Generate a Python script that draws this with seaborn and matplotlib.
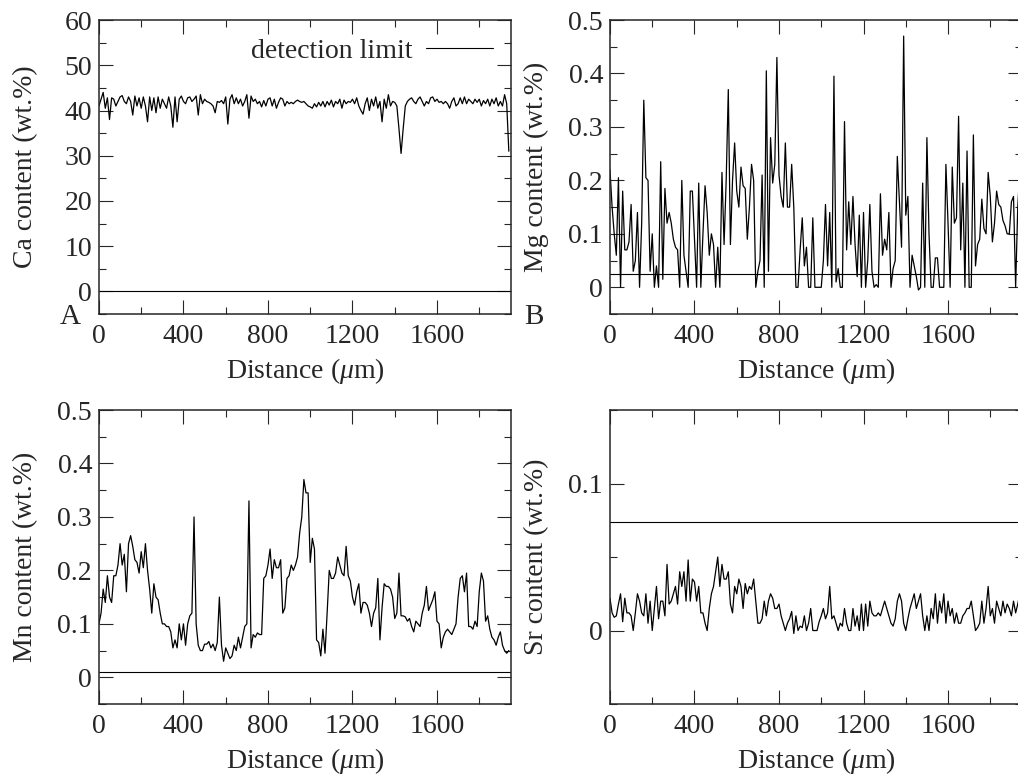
import numpy as np
import pandas as pd
import matplotlib
matplotlib.use("Agg")
import matplotlib.pyplot as plt
import seaborn as sns
from matplotlib.ticker import MultipleLocator, FuncFormatter

# Perfis de composição ao longo da distância (passo de 10 um)
distance_um = list(range(0, 1950, 10))

ca_wt = [
    41.0, 42.5, 44.0, 40.5, 42.8, 38.0, 42.8, 42.5, 41.0, 42.0,
    43.0, 43.3, 42.0, 41.5, 43.0, 42.0, 39.0, 43.2, 41.0, 42.8,
    40.5, 43.0, 41.0, 37.5, 43.0, 40.0, 42.8, 39.5, 43.0, 40.5,
    42.5, 41.5, 40.5, 43.0, 41.0, 36.3, 43.0, 37.5, 42.5, 43.2,
    42.0, 41.5, 42.8, 43.0, 42.0, 42.5, 43.2, 39.0, 43.5, 41.5,
    42.5, 42.0, 41.8, 41.5, 41.0, 39.5, 42.0, 41.8, 42.2, 41.5,
    43.0, 37.0, 42.5, 43.5, 41.5, 42.8, 41.5, 42.5, 41.0, 42.0,
    43.5, 38.3, 43.2, 42.0, 42.5, 41.5, 42.0, 40.8, 42.2, 41.0,
    42.5, 42.8, 41.0, 42.5, 40.5, 41.8, 42.8, 42.5, 41.0, 42.0,
    41.5, 41.8, 41.5, 42.0, 42.3, 42.0, 41.8, 42.0, 41.5, 41.0,
    40.8, 40.5, 41.5, 40.8, 41.8, 41.0, 42.0, 40.8, 42.0, 41.2,
    42.3, 40.8, 42.0, 41.5, 42.5, 40.5, 42.3, 41.5, 42.0, 41.8,
    42.5, 41.5, 42.8, 41.0, 40.0, 39.2, 41.5, 42.8, 40.0, 42.5,
    41.0, 43.0, 40.5, 42.0, 37.5, 42.5, 40.5, 43.5, 41.0, 42.0,
    41.8, 41.0, 36.0, 30.5, 36.0, 41.0, 42.0, 42.5, 42.8, 42.0,
    41.5, 42.5, 43.0, 42.0, 41.0, 42.0, 41.5, 42.8, 43.0, 42.0,
    42.5, 41.8, 42.0, 41.5, 42.0, 41.5, 40.5, 42.0, 42.8, 41.0,
    41.5, 42.8, 41.5, 43.0, 41.5, 42.5, 42.0, 41.5, 42.5, 41.8,
    42.5, 41.0, 42.2, 41.5, 42.5, 41.0, 42.5, 41.5, 42.8, 41.0,
    42.0, 41.0, 43.5, 41.5, 31.0,
]

mg_wt = [
    0.22, 0.15, 0.10, 0.06, 0.205, 0.0, 0.18, 0.07, 0.07, 0.085,
    0.155, 0.03, 0.05, 0.14, 0.0, 0.12, 0.35, 0.205, 0.20, 0.03,
    0.10, 0.0, 0.04, 0.0, 0.235, 0.015, 0.185, 0.12, 0.14, 0.12,
    0.09, 0.075, 0.07, 0.0, 0.20, 0.06, 0.03, 0.0, 0.18, 0.18,
    0.09, 0.0, 0.195, 0.0, 0.10, 0.19, 0.14, 0.06, 0.10, 0.08,
    0.0, 0.075, 0.0, 0.215, 0.08, 0.20, 0.37, 0.08, 0.20, 0.27,
    0.18, 0.15, 0.225, 0.19, 0.185, 0.09, 0.15, 0.23, 0.20, 0.0,
    0.03, 0.05, 0.21, 0.0, 0.405, 0.03, 0.28, 0.195, 0.23, 0.43,
    0.21, 0.17, 0.15, 0.27, 0.15, 0.15, 0.23, 0.15, 0.0, 0.0,
    0.07, 0.13, 0.04, 0.075, 0.0, 0.0, 0.13, 0.0, 0.0, 0.0,
    0.0, 0.05, 0.155, 0.04, 0.14, 0.0, 0.395, 0.01, 0.035, 0.0,
    0.0, 0.31, 0.07, 0.16, 0.08, 0.17, 0.08, 0.02, 0.135, 0.0,
    0.14, 0.0, 0.05, 0.155, 0.03, 0.0, 0.005, 0.0, 0.175, 0.06,
    0.09, 0.07, 0.14, 0.0, 0.035, 0.05, 0.245, 0.16, 0.075, 0.47,
    0.135, 0.17, 0.0, 0.06, 0.04, 0.02, -0.005, 0.0, 0.195, 0.0,
    0.28, 0.10, 0.0, 0.0, 0.055, 0.055, 0.0, 0.0, 0.0, 0.23,
    0.12, 0.0, 0.225, 0.12, 0.13, 0.32, 0.07, 0.195, 0.0, 0.255,
    0.0, 0.0, 0.285, 0.04, 0.08, 0.09, 0.165, 0.11, 0.10, 0.215,
    0.17, 0.085, 0.12, 0.18, 0.155, 0.15, 0.125, 0.115, 0.10, 0.10,
    0.16, 0.17, 0.0, 0.15, 0.22,
]

mn_wt = [
    0.10, 0.12, 0.165, 0.14, 0.19, 0.15, 0.14, 0.19, 0.19, 0.21,
    0.25, 0.21, 0.23, 0.16, 0.25, 0.265, 0.245, 0.22, 0.215, 0.195,
    0.235, 0.205, 0.25, 0.20, 0.165, 0.12, 0.175, 0.15, 0.145, 0.12,
    0.10, 0.10, 0.095, 0.095, 0.085, 0.055, 0.07, 0.055, 0.10, 0.07,
    0.10, 0.06, 0.10, 0.115, 0.12, 0.30, 0.10, 0.06, 0.05, 0.05,
    0.062, 0.062, 0.067, 0.055, 0.062, 0.05, 0.065, 0.15, 0.06, 0.03,
    0.055, 0.045, 0.035, 0.04, 0.06, 0.05, 0.075, 0.055, 0.075, 0.095,
    0.10, 0.33, 0.055, 0.08, 0.075, 0.083, 0.08, 0.08, 0.185, 0.19,
    0.21, 0.24, 0.185, 0.22, 0.205, 0.205, 0.22, 0.12, 0.13, 0.185,
    0.19, 0.21, 0.20, 0.21, 0.225, 0.27, 0.30, 0.37, 0.345, 0.345,
    0.215, 0.26, 0.24, 0.07, 0.065, 0.04, 0.09, 0.045, 0.12, 0.20,
    0.185, 0.185, 0.195, 0.225, 0.21, 0.195, 0.19, 0.245, 0.19, 0.18,
    0.15, 0.135, 0.16, 0.175, 0.12, 0.14, 0.14, 0.135, 0.12, 0.095,
    0.12, 0.13, 0.185, 0.07, 0.13, 0.175, 0.17, 0.17, 0.165, 0.15,
    0.11, 0.12, 0.195, 0.115, 0.115, 0.113, 0.105, 0.11, 0.095, 0.085,
    0.105, 0.10, 0.095, 0.12, 0.135, 0.17, 0.125, 0.135, 0.145, 0.16,
    0.105, 0.10, 0.055, 0.075, 0.085, 0.09, 0.085, 0.08, 0.09, 0.10,
    0.15, 0.185, 0.19, 0.16, 0.195, 0.095, 0.095, 0.09, 0.105, 0.095,
    0.16, 0.195, 0.18, 0.105, 0.115, 0.09, 0.075, 0.07, 0.06, 0.075,
    0.085, 0.06, 0.05, 0.045, 0.05,
]

sr_wt = [
    0.022, 0.012, 0.009, 0.010, 0.018, 0.025, 0.006, 0.022, 0.012, 0.012,
    0.010, 0.0, 0.012, 0.025, 0.020, 0.012, 0.010, 0.025, 0.005, 0.020,
    0.0, 0.015, 0.030, 0.008, 0.020, 0.020, 0.010, 0.045, 0.018, 0.020,
    0.025, 0.030, 0.018, 0.040, 0.030, 0.040, 0.020, 0.048, 0.020, 0.035,
    0.033, 0.020, 0.030, 0.012, 0.012, 0.005, 0.0, 0.015, 0.025, 0.030,
    0.040, 0.050, 0.030, 0.045, 0.035, 0.035, 0.040, 0.018, 0.012, 0.030,
    0.025, 0.035, 0.030, 0.015, 0.032, 0.025, 0.030, 0.028, 0.035, 0.020,
    0.005, 0.005, 0.008, 0.020, 0.010, 0.020, 0.025, 0.022, 0.015, 0.015,
    0.018, 0.010, 0.005, 0.0, 0.005, 0.008, 0.013, -0.002, 0.010, 0.0,
    0.003, 0.002, 0.010, 0.0, 0.005, 0.015, 0.0, 0.0, 0.0, 0.006,
    0.010, 0.015, 0.008, 0.012, 0.030, 0.008, 0.010, 0.005, 0.0, 0.005,
    0.003, 0.015, 0.005, 0.0, 0.0, 0.015, 0.003, 0.010, 0.0, 0.018,
    0.0, 0.018, 0.003, 0.020, 0.012, 0.010, 0.010, 0.012, 0.010, 0.015,
    0.020, 0.015, 0.010, 0.005, 0.003, 0.008, 0.020, 0.025, 0.020, 0.005,
    0.0, 0.008, 0.015, 0.020, 0.025, 0.015, 0.020, 0.025, 0.010, 0.0,
    0.010, 0.0, 0.015, 0.008, 0.025, 0.005, 0.020, 0.012, 0.025, 0.005,
    0.020, 0.010, 0.015, 0.005, 0.012, 0.005, 0.005, 0.010, 0.012, 0.015,
    0.015, 0.020, 0.010, 0.0, 0.002, 0.005, 0.020, 0.005, 0.015, 0.030,
    0.010, 0.015, 0.005, 0.020, 0.015, 0.010, 0.020, 0.012, 0.018, 0.015,
    0.010, 0.020, 0.012, 0.018, 0.025,
]

# Limites de detecção (wt.%)
detection_limits = {"Ca": 0.02, "Mg": 0.024, "Mn": 0.01, "Sr": 0.074}

panels = [
    # elemento, dados, ylim, passo maior, passo menor, rótulo do painel
    ("Ca", ca_wt, (-5, 60), 10, 5, "A"),
    ("Mg", mg_wt, (-0.05, 0.5), 0.1, 0.05, "B"),
    ("Mn", mn_wt, (-0.05, 0.5), 0.1, 0.05, None),
    ("Sr", sr_wt, (-0.05, 0.15), 0.1, 0.05, None),
]

# Posição horizontal do rótulo de painel (fração do eixo)
tag_x = {"A": -0.07, "B": -0.185}

FS = 20

sns.set_style("ticks")
plt.rcParams["font.family"] = ["Liberation Serif", "DejaVu Serif"]
plt.rcParams["mathtext.fontset"] = "custom"
plt.rcParams["mathtext.rm"] = "Liberation Serif"
plt.rcParams["mathtext.it"] = "Liberation Serif:italic"
plt.rcParams["font.size"] = FS
plt.rcParams["axes.linewidth"] = 1.1

fig = plt.figure(figsize=(10.18, 7.8), dpi=100)

# Posições dos eixos em frações da figura (coluna direita sai um pouco da borda)
positions = [
    (0.0972, 0.5974, 0.4047, 0.3769),
    (0.5992, 0.5974, 0.4047, 0.3769),
    (0.0972, 0.0974, 0.4047, 0.3769),
    (0.5992, 0.0974, 0.4047, 0.3769),
]

fmt = FuncFormatter(lambda v, _: f"{v:g}" if abs(v) > 1e-9 else "0")

for (elem, values, ylim, major, minor, tag), pos in zip(panels, positions):
    ax = fig.add_axes(pos)
    df = pd.DataFrame({"distance": distance_um, "content": values})
    sns.lineplot(data=df, x="distance", y="content", ax=ax, color="black",
                 lw=0.9, estimator=None)
    ax.axhline(detection_limits[elem], color="black", lw=0.8,
               label="detection limit")

    ax.set_xlim(0, 1950)
    ax.set_ylim(*ylim)
    ax.xaxis.set_major_locator(MultipleLocator(400))
    ax.xaxis.set_minor_locator(MultipleLocator(200))
    ax.yaxis.set_major_locator(MultipleLocator(major))
    ax.yaxis.set_minor_locator(MultipleLocator(minor))
    ax.yaxis.set_major_formatter(fmt)
    ax.tick_params(which="both", direction="in", top=True, right=True,
                   width=0.8, labelsize=FS)
    ax.tick_params(axis="x", pad=7)
    ax.tick_params(axis="y", pad=5)
    ax.tick_params(which="major", length=10)
    ax.tick_params(which="minor", length=5)

    ax.set_xlabel(r"Distance ($\mu$m)", fontsize=FS, labelpad=5)
    ax.set_ylabel(f"{elem} content (wt.%)", fontsize=FS)
    ax.yaxis.set_label_coords(-0.148, 0.5)

    if elem == "Ca":
        ax.legend(loc="upper right", frameon=False, markerfirst=False,
                  handlelength=2.4, handletextpad=0.5, fontsize=FS,
                  borderaxespad=0.25)
    if tag:
        ax.text(tag_x[tag], -0.01, tag, transform=ax.transAxes,
                fontsize=FS + 1, ha="center", va="center")

fig.savefig("out.png", dpi=100)
